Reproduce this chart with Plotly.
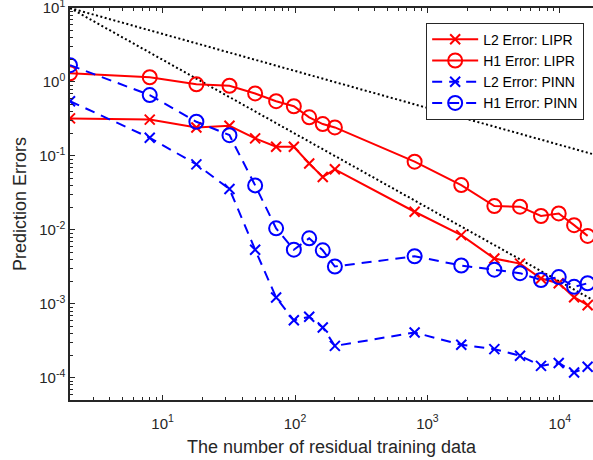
import plotly.graph_objects as go
import math

n_train = [2, 8, 18, 32, 50, 72, 98, 128, 162, 200, 800, 1800, 3200, 5000, 7200, 9800, 12800, 16200]

l2_lipr = [0.322, 0.31, 0.243, 0.256, 0.173, 0.133, 0.133, 0.079, 0.052, 0.066, 0.0176, 0.0085,
           0.0041, 0.0035, 0.0022, 0.0019, 0.00123, 0.00096]
h1_lipr = [1.31, 1.16, 0.93, 0.89, 0.70, 0.55, 0.47, 0.333, 0.27, 0.243, 0.0836, 0.0404,
           0.021, 0.0206, 0.0154, 0.0167, 0.0116, 0.0083]
l2_pinn = [0.55, 0.176, 0.077, 0.0357, 0.0054, 0.00122, 0.0006, 0.00067, 0.00048, 0.00027, 0.00041,
           0.00028, 0.000244, 0.000199, 0.000145, 0.000159, 0.000118, 0.000141]
h1_pinn = [1.69, 0.666, 0.29, 0.191, 0.040, 0.0105, 0.0054, 0.0077, 0.0053, 0.0032, 0.0044,
           0.0033, 0.0029, 0.0026, 0.0021, 0.0023, 0.0017, 0.0019]

ref_x = [2, 18000]
ref_half = [10, 0.105]
ref_one = [10, 0.00111]

x_tick_vals = [10, 100, 1000, 10000]
x_tick_text = ["10<sup>1</sup>", "10<sup>2</sup>", "10<sup>3</sup>", "10<sup>4</sup>"]
y_tick_vals = [1e-4, 1e-3, 1e-2, 1e-1, 1, 10]
y_tick_text = ["10<sup>-4</sup>", "10<sup>-3</sup>", "10<sup>-2</sup>", "10<sup>-1</sup>",
               "10<sup>0</sup>", "10<sup>1</sup>"]

x_minor = [m * 10 ** e for e in range(0, 5) for m in range(2, 10)]
y_minor = [m * 10 ** e for e in range(-5, 1) for m in range(2, 10)]

RED = "#ff0000"
BLUE = "#0000ff"
AX = "#262626"

fig = go.Figure()
fig.add_trace(go.Scatter(x=ref_x, y=ref_half, mode="lines", showlegend=False,
                         line=dict(color="black", width=2, dash="2px,2.5px")))
fig.add_trace(go.Scatter(x=ref_x, y=ref_one, mode="lines", showlegend=False,
                         line=dict(color="black", width=2, dash="2px,2.5px")))
fig.add_trace(go.Scatter(x=n_train, y=l2_lipr, mode="lines+markers", name="L2 Error: LIPR",
                         line=dict(color=RED, width=2),
                         marker=dict(symbol="x-thin-open", size=10, color=RED, line=dict(width=2, color=RED))))
fig.add_trace(go.Scatter(x=n_train, y=h1_lipr, mode="lines+markers", name="H1 Error: LIPR",
                         line=dict(color=RED, width=2),
                         marker=dict(symbol="circle-open", size=14, color=RED, line=dict(width=2, color=RED))))
fig.add_trace(go.Scatter(x=n_train, y=l2_pinn, mode="lines+markers", name="L2 Error: PINN",
                         line=dict(color=BLUE, width=2, dash="10px,7px"),
                         marker=dict(symbol="x-thin-open", size=10, color=BLUE, line=dict(width=2, color=BLUE))))
fig.add_trace(go.Scatter(x=n_train, y=h1_pinn, mode="lines+markers", name="H1 Error: PINN",
                         line=dict(color=BLUE, width=2, dash="10px,7px"),
                         marker=dict(symbol="circle-open", size=14, color=BLUE, line=dict(width=2, color=BLUE))))

fig.update_layout(
    width=593, height=460,
    margin=dict(l=70, r=0, t=8, b=60),
    paper_bgcolor="white", plot_bgcolor="white",
    font=dict(family="Liberation Sans, Arial, sans-serif", size=15, color=AX),
    legend=dict(x=0.681, y=0.9625, xanchor="left", yanchor="top",
                bgcolor="white", bordercolor=AX, borderwidth=1,
                font=dict(size=14, color="black"), itemwidth=46,
                tracegroupgap=0),
    xaxis=dict(type="log", range=[math.log10(2), 4.25], automargin=False,
               tickvals=x_tick_vals, ticktext=x_tick_text,
               ticks="inside", ticklen=5, tickcolor=AX, tickwidth=1,
               ticklabelstandoff=9, ticklabeloverflow="allow",
               showline=True, linecolor=AX, linewidth=1.5, mirror="ticks",
               showgrid=False, zeroline=False,
               minor=dict(tickvals=x_minor, ticks="inside", ticklen=3, tickcolor=AX, showgrid=False),
               title=dict(text="The number of residual training data", font=dict(size=18), standoff=10),
               tickfont=dict(size=15)),
    yaxis=dict(type="log", range=[-4.30, 1.0005], automargin=False,
               tickvals=y_tick_vals, ticktext=y_tick_text,
               ticks="inside", ticklen=5, tickcolor=AX, tickwidth=1,
               ticklabeloverflow="allow",
               showline=True, linecolor=AX, linewidth=1.5, mirror=False,
               showgrid=False, zeroline=False,
               minor=dict(tickvals=y_minor, ticks="inside", ticklen=3, tickcolor=AX, showgrid=False),
               title=dict(text="Prediction Errors", font=dict(size=18), standoff=8),
               tickfont=dict(size=15)),
)

fig.write_html("out.html", config={"displayModeBar": False},
               post_script="document.body.style.margin='0';document.body.style.overflow='hidden';")
